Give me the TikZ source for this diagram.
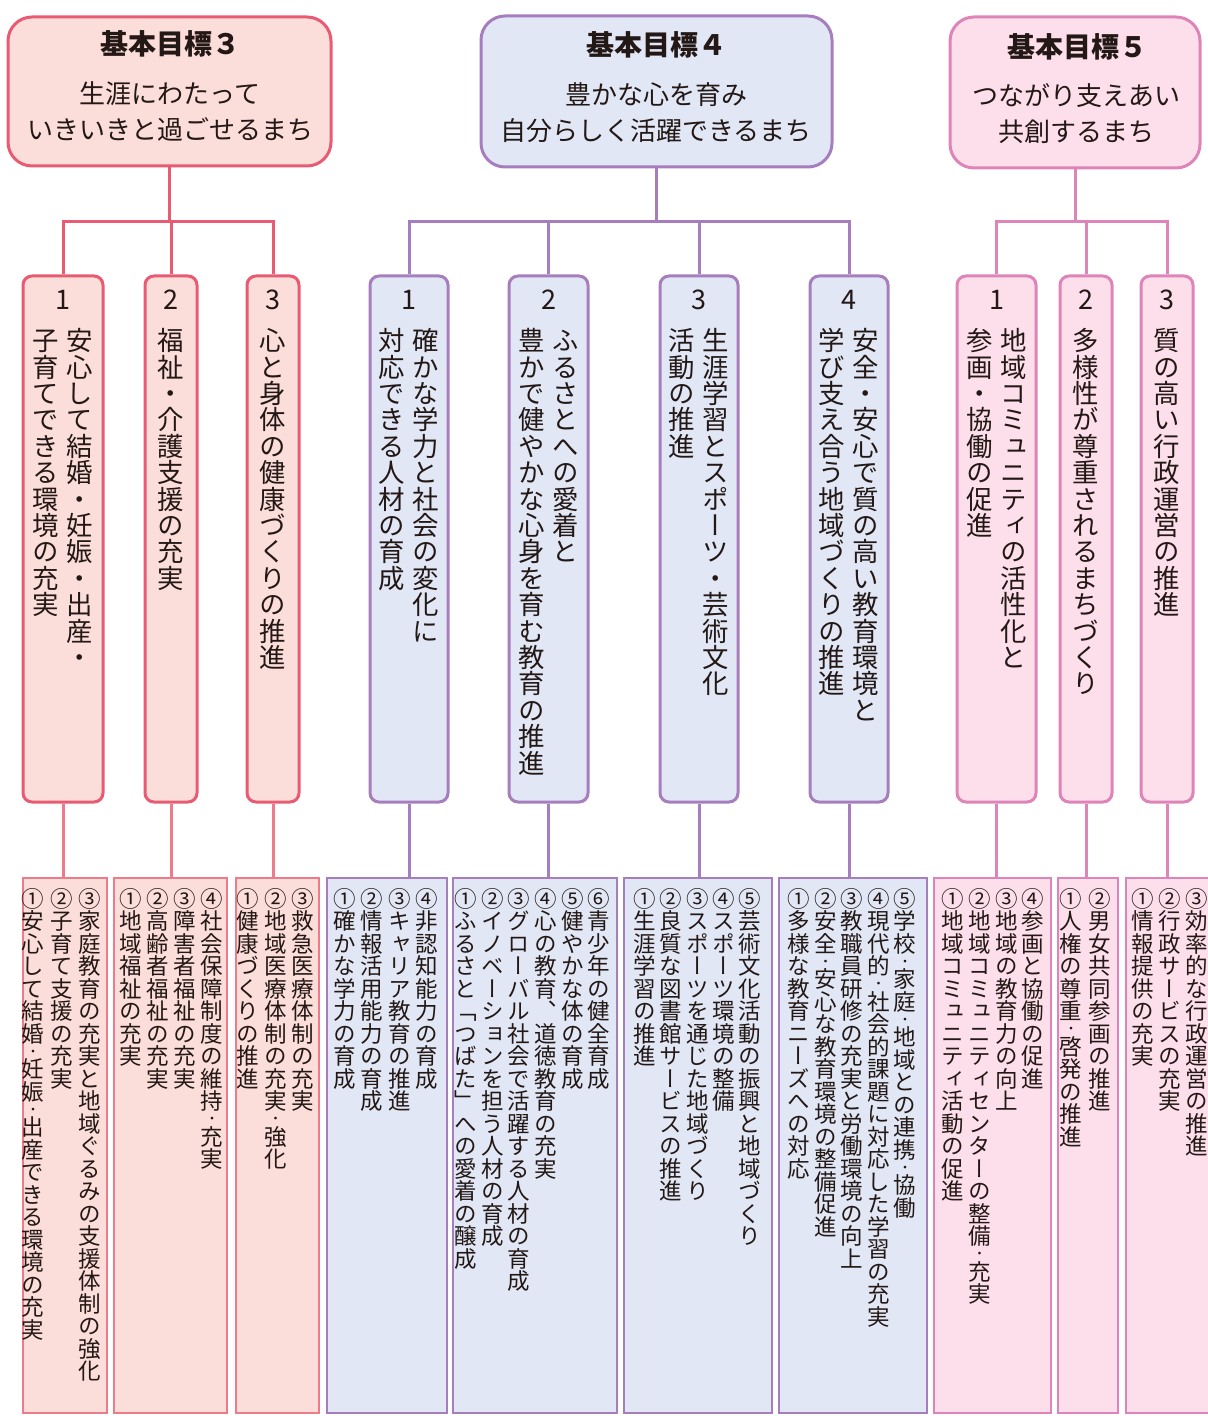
\documentclass[tikz,border=0pt]{standalone}
\usepackage{fontspec}
\setmainfont{Noto Sans CJK JP}
\newfontfamily\vjp[RawFeature={vertical;+vert}]{Noto Sans CJK JP}
\definecolor{rA}{HTML}{E95B73}
\definecolor{rF}{HTML}{FBDDD9}
\definecolor{rL}{HTML}{EE7B8A}
\definecolor{pA}{HTML}{A77EBD}
\definecolor{pF}{HTML}{E1E7F5}
\definecolor{mA}{HTML}{DE84B8}
\definecolor{mF}{HTML}{FCDFEA}
\definecolor{ink}{HTML}{231815}
\newcommand\hd{{\fontsize{6.5}{7}\selectfont ・}}
\newcommand\boxat[6]{% name, style, x1, y1, x2, y2
  \node[#2, minimum width={(#5-#3)*0.5pt}, minimum height={(#6-#4)*0.5pt}] (#1) at ({(#3+#5)/2},{(#4+#6)/2}) {};}
\newcommand\leafcols[5]{% name, mid x, pitch, n, list (first item leftmost)
  \foreach \t [count=\i] in {#5}{
    \node[lt] (#1-\i) at ({#2+(\i-(#4+1)/2)*#3}, 887) {\t};
  }}
\newcommand\vcol[4]{% name, x, y, text
  \node[vt] (#1) at (#2,#3) {#4};}
\begin{document}
\begin{tikzpicture}[x=0.5pt,y=-0.5pt,
  goalbox/.style={draw, line width=1.5pt, rounded corners=12pt, inner sep=0pt},
  subbox/.style={draw, line width=1.5pt, rounded corners=4.5pt, inner sep=0pt},
  leafbox/.style={draw, line width=0.8pt, inner sep=0pt},
  conn/.style={line width=1.5pt},
  ttl/.style={text=ink, inner sep=0pt, font=\bfseries\fontsize{14}{16}\selectfont},
  gtx/.style={text=ink, inner sep=0pt, align=center, font=\fontsize{13}{18}\selectfont},
  dig/.style={text=ink, inner sep=0pt, font=\fontsize{13.5}{16}\selectfont},
  vt/.style={rotate=-90, anchor=west, inner sep=0pt, text height=6pt, text depth=6pt, text=ink, font=\vjp\fontsize{13.2}{16}\selectfont},
  lt/.style={rotate=-90, anchor=west, inner sep=0pt, text height=5pt, text depth=5pt, text=ink, font=\vjp\fontsize{11.25}{13}\selectfont}]
\useasboundingbox (0,0) rectangle (1207,1416);

% ---------- goal boxes ----------
\boxat{g3}{goalbox, draw=rA, fill=rF}{8}{17}{331}{166}
\boxat{g4}{goalbox, draw=pA, fill=pF}{481}{16}{832}{167}
\boxat{g5}{goalbox, draw=mA, fill=mF}{950}{17}{1200}{168}
\node[ttl] (g3t) at (170,44) {基本目標３};
\node[gtx] (g3b) at (170,112) {生涯にわたって\\いきいきと過ごせるまち};
\node[ttl] (g4t) at (656,45) {基本目標４};
\node[gtx] (g4b) at (656,113) {豊かな心を育み\\自分らしく活躍できるまち};
\node[ttl] (g5t) at (1077,47) {基本目標５};
\node[gtx] (g5b) at (1076,114) {つながり支えあい\\共創するまち};

% ---------- sub boxes ----------
\boxat{s31}{subbox, draw=rA, fill=rF}{23}{276}{103}{802}
\boxat{s32}{subbox, draw=rA, fill=rF}{145}{276}{197}{802}
\boxat{s33}{subbox, draw=rA, fill=rF}{247}{276}{299}{802}
\boxat{s41}{subbox, draw=pA, fill=pF}{370}{276}{448}{802}
\boxat{s42}{subbox, draw=pA, fill=pF}{509}{276}{588}{802}
\boxat{s43}{subbox, draw=pA, fill=pF}{660}{276}{738}{802}
\boxat{s44}{subbox, draw=pA, fill=pF}{810}{276}{888}{802}
\boxat{s51}{subbox, draw=mA, fill=mF}{957}{276}{1036}{802}
\boxat{s52}{subbox, draw=mA, fill=mF}{1060}{276}{1112}{802}
\boxat{s53}{subbox, draw=mA, fill=mF}{1141}{276}{1193}{802}

\node[dig] (d31) at (63,300) {1};
\node[dig] (d32) at (171,300) {2};
\node[dig] (d33) at (273,300) {3};
\node[dig] (d41) at (409,300) {1};
\node[dig] (d42) at (548.5,300) {2};
\node[dig] (d43) at (699,300) {3};
\node[dig] (d44) at (849,300) {4};
\node[dig] (d51) at (996.5,300) {1};
\node[dig] (d52) at (1086,300) {2};
\node[dig] (d53) at (1167,300) {3};

\vcol{t31a}{80}{327}{安心して結婚・妊娠・出産・}
\vcol{t31b}{46}{327}{子育てできる環境の充実}
\vcol{t32a}{171}{327}{福祉・介護支援の充実}
\vcol{t33a}{273}{327}{心と身体の健康づくりの推進}
\vcol{t41a}{426}{327}{確かな学力と社会の変化に}
\vcol{t41b}{392}{327}{対応できる人材の育成}
\vcol{t42a}{565.5}{327}{ふるさとへの愛着と}
\vcol{t42b}{531.5}{327}{豊かで健やかな心身を育む教育の推進}
\vcol{t43a}{716}{327}{生涯学習とスポーツ・芸術文化}
\vcol{t43b}{682}{327}{活動の推進}
\vcol{t44a}{866}{327}{安全・安心で質の高い教育環境と}
\vcol{t44b}{832}{327}{学び支え合う地域づくりの推進}
\vcol{t51a}{1013.5}{327}{地域コミュニティの活性化と}
\vcol{t51b}{979.5}{327}{参画・協働の促進}
\vcol{t52a}{1086}{327}{多様性が尊重されるまちづくり}
\vcol{t53a}{1167}{327}{質の高い行政運営の推進}

% ---------- leaf boxes ----------
\boxat{l31}{leafbox, draw=rL, fill=rF}{23}{878}{107}{1413}
\boxat{l32}{leafbox, draw=rL, fill=rF}{114}{878}{227}{1413}
\boxat{l33}{leafbox, draw=rL, fill=rF}{236}{878}{319}{1413}
\boxat{l41}{leafbox, draw=pA, fill=pF}{327}{878}{447}{1413}
\boxat{l42}{leafbox, draw=pA, fill=pF}{453}{878}{617}{1413}
\boxat{l43}{leafbox, draw=pA, fill=pF}{624}{878}{772}{1413}
\boxat{l44}{leafbox, draw=pA, fill=pF}{779}{878}{927}{1413}
\boxat{l51}{leafbox, draw=mA, fill=mF}{934}{878}{1051}{1413}
\boxat{l52}{leafbox, draw=mA, fill=mF}{1058}{878}{1118}{1413}
\boxat{l53}{leafbox, draw=mA, fill=mF}{1126}{878}{1216}{1413}

\leafcols{c31}{61.5}{28.5}{3}{①安心して結婚\hd 妊娠\hd 出産できる環境の充実, ②子育て支援の充実, ③家庭教育の充実と地域ぐるみの支援体制の強化}
\leafcols{c32}{171.5}{27}{4}{①地域福祉の充実, ②高齢者福祉の充実, ③障害者福祉の充実, ④社会保障制度の維持\hd 充実}
\leafcols{c33}{275.5}{27.5}{3}{①健康づくりの推進, ②地域医療体制の充実\hd 強化, ③救急医療体制の充実}
\leafcols{c41}{385.5}{27.5}{4}{①確かな学力の育成, ②情報活用能力の育成, ③キャリア教育の推進, ④非認知能力の育成}
\leafcols{c42}{532.5}{26.6}{6}{①ふるさと「つばた」への愛着の醸成, ②イノベーションを担う人材の育成, ③グローバル社会で活躍する人材の育成, ④心の教育、道徳教育の充実, ⑤健やかな体の育成, ⑥青少年の健全育成}
\leafcols{c43}{697.5}{26.3}{5}{①生涯学習の推進, ②良質な図書館サービスの推進, ③スポーツを通じた地域づくり, ④スポーツ環境の整備, ⑤芸術文化活動の振興と地域づくり}
\leafcols{c44}{852}{26.5}{5}{①多様な教育ニーズへの対応, ②安全\hd 安心な教育環境の整備促進, ③教職員研修の充実と労働環境の向上, ④現代的\hd 社会的課題に対応した学習の充実, ⑤学校\hd 家庭\hd 地域との連携\hd 協働}
\leafcols{c51}{993}{26.7}{4}{①地域コミュニティ活動の促進, ②地域コミュニティセンターの整備\hd 充実, ③地域の教育力の向上, ④参画と協働の促進}
\leafcols{c52}{1085.5}{29}{2}{①人権の尊重\hd 啓発の推進, ②男女共同参画の推進}
\leafcols{c53}{1170}{27}{3}{①情報提供の充実, ②行政サービスの充実, ③効率的な行政運営の推進}

% ---------- connectors ----------
\coordinate (h3) at (170,222);
\coordinate (h4) at (655,222);
\coordinate (h5) at (1082,222);
\draw[conn, draw=rA] (g3.south) -- (g3.south |- h3);
\draw[conn, draw=rA] (s31.north) |- (h3) -| (s33.north);
\draw[conn, draw=rA] (s32.north) -- (s32.north |- h3);
\draw[conn, draw=pA] (g4.south) -- (g4.south |- h4);
\draw[conn, draw=pA] (s41.north) |- (h4) -| (s44.north);
\draw[conn, draw=pA] (s42.north) -- (s42.north |- h4);
\draw[conn, draw=pA] (s43.north) -- (s43.north |- h4);
\draw[conn, draw=mA] (g5.south) -- (g5.south |- h5);
\draw[conn, draw=mA] (s51.north) |- (h5) -| (s53.north);
\draw[conn, draw=mA] (s52.north) -- (s52.north |- h5);

\draw[conn, draw=rL] (s31.south) -- (s31.south |- l31.north);
\draw[conn, draw=rL] (s32.south) -- (s32.south |- l32.north);
\draw[conn, draw=rL] (s33.south) -- (s33.south |- l33.north);
\draw[conn, draw=pA] (s41.south) -- (s41.south |- l41.north);
\draw[conn, draw=pA] (s42.south) -- (s42.south |- l42.north);
\draw[conn, draw=pA] (s43.south) -- (s43.south |- l43.north);
\draw[conn, draw=pA] (s44.south) -- (s44.south |- l44.north);
\draw[conn, draw=mA] (s51.south) -- (s51.south |- l51.north);
\draw[conn, draw=mA] (s52.south) -- (s52.south |- l52.north);
\draw[conn, draw=mA] (s53.south) -- (s53.south |- l53.north);
\end{tikzpicture}
\end{document}
